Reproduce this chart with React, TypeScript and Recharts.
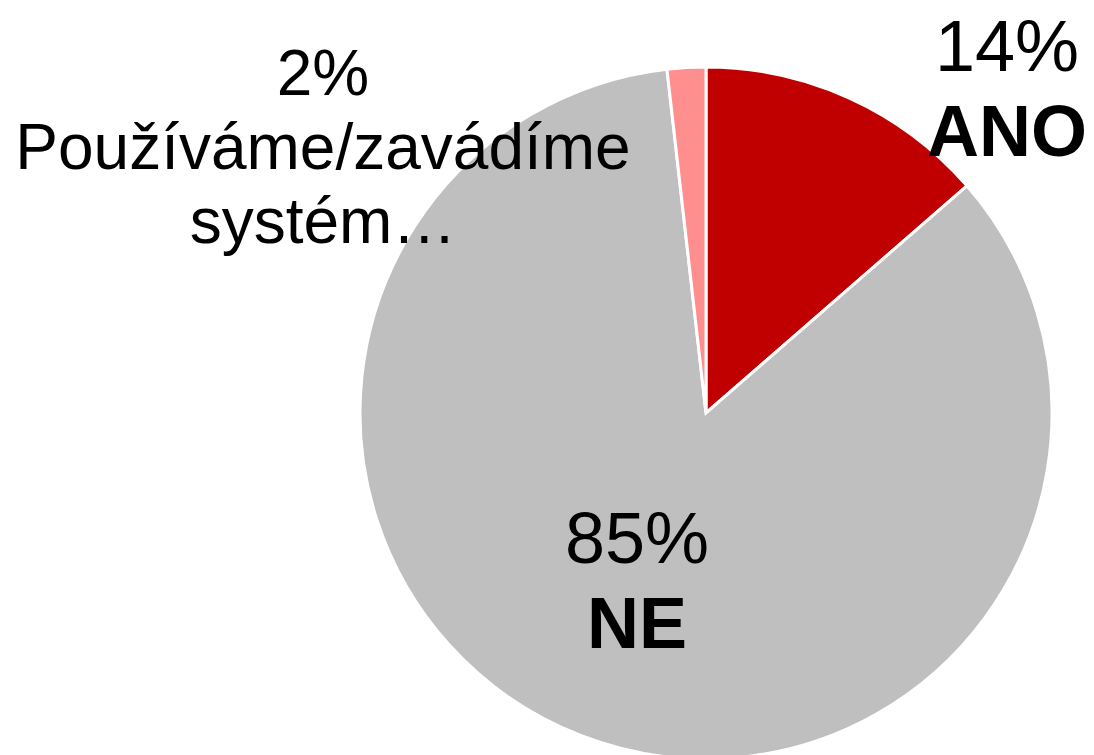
import { PieChart, Pie, Cell } from "recharts";

const categories = ["ANO", "NE", "Používáme/zavádíme systém…"];
const shares = [13.6, 84.6, 1.8];
const percentLabels = ["14%", "85%", "2%"];
const nameLines = [["ANO"], ["NE"], ["Používáme/zavádíme", "systém…"]];
const colors = ["#C00000", "#BFBFBF", "#FF8F8F"];

// label placement relative to pie centre
const labelStyle = [
  { dx: 301, dy: -342, line: 85, size: 72, boldName: true },
  { dx: -69, dy: 150, line: 85, size: 72, boldName: true },
  { dx: -383, dy: -318, line: 74, size: 64, boldName: false },
];

const data = categories.map((name, i) => ({ name, value: shares[i] }));

const FONT = "'Liberation Sans', Arial, sans-serif";

function renderLabel(props: any) {
  const { cx, cy, index } = props;
  const s = labelStyle[index];
  const x = cx + s.dx;
  const y0 = cy + s.dy;
  return (
    <g key={`lbl-${index}`}>
      <text x={x} y={y0} textAnchor="middle" fontSize={s.size} fontFamily={FONT} fill="#000">
        {percentLabels[index]}
      </text>
      {nameLines[index].map((t, j) => (
        <text
          key={j}
          x={x}
          y={y0 + s.line * (j + 1)}
          textAnchor="middle"
          fontSize={s.size}
          fontWeight={s.boldName ? 700 : 400}
          fontFamily={FONT}
          fill="#000"
        >
          {t}
        </text>
      ))}
    </g>
  );
}

export default function App() {
  return (
    <div style={{ position: "absolute", left: 0, top: 0, width: 1094, height: 755, background: "#fff" }}>
      <PieChart width={1094} height={755} margin={{ top: 0, right: 0, bottom: 0, left: 0 }}>
        <Pie
          data={data}
          dataKey="value"
          nameKey="name"
          cx={706}
          cy={413}
          outerRadius={346}
          startAngle={90}
          endAngle={-270}
          stroke="#fff"
          strokeWidth={3}
          label={renderLabel}
          labelLine={false}
          isAnimationActive={false}
        >
          {data.map((d, i) => (
            <Cell key={d.name} fill={colors[i]} />
          ))}
        </Pie>
      </PieChart>
    </div>
  );
}
